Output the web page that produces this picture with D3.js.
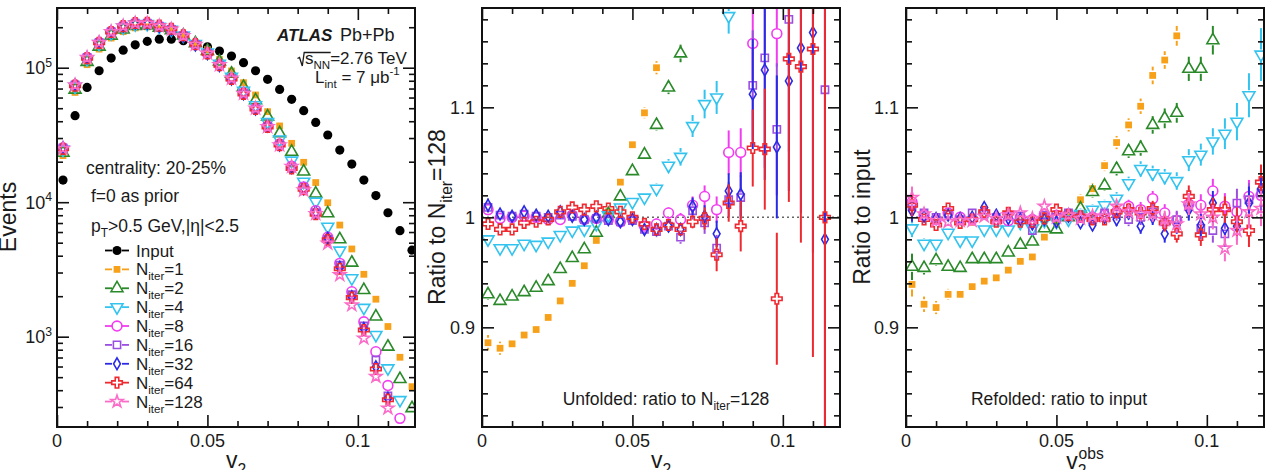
<!DOCTYPE html>
<html><head><meta charset="utf-8">
<script src="https://cdn.jsdelivr.net/npm/d3@7"></script>
<style>
body{margin:0;background:#fff;}
svg{display:block;}
text{font-family:"Liberation Sans",Arial,Helvetica,sans-serif;fill:#1a1a1a;}
</style>
</head><body>
<svg id="c" width="1274" height="470"></svg>
<script>
// ---------------- DATA ----------------
const bins = [0.002,0.006,0.010,0.014,0.018,0.022,0.026,0.030,0.034,0.038,0.042,0.046,0.050,0.054,0.058,
              0.062,0.066,0.070,0.074,0.078,0.082,0.086,0.090,0.094,0.098,0.102,0.106,0.110,0.114,0.118];
const iterLabels = ["1","2","4","8","16","32","64","128"];

// Panel 1: event counts
const inputEvents = [14600,44000,71400,95000,118000,135000,148000,157000,163000,163000,158600,150700,143000,133000,122000,
                     109000,95000,82000,69000,58200,47900,39200,31600,24400,19200,14600,11200,8350,6140,4400];
const unf1   = [22200,65500,105300,137500,166100,185400,197700,201200,195000,189000,173900,153800,136400,115000,94600,
                77400,62700,47100,36900,27400,19800,14000,9900,6760,4490,2910,1900,1190,703,425];
const unf2   = [23300,68700,110400,143500,173200,192200,203900,206100,198100,190300,173500,151800,133400,111000,90300,
                72000,57300,43300,32500,23700,16900,11600,8260,5300,3550,2220,1410,843,484,294];
const unf4   = [24600,72200,115700,150300,180400,199500,210600,211400,201800,191800,173300,150300,129800,106900,85500,
                67400,52600,39400,29300,20400,14200,10100,6580,4370,2720,1640,1030,582,338,null];
const unf8   = [25300,74200,119000,154200,185000,203600,213600,214400,203600,192800,172700,148400,127700,104200,82800,
                64700,49800,36800,27100,18500,13000,8650,5490,3510,2160,1290,773,433,247,null];
const unf16  = [25300,74400,119100,154500,185200,204000,214400,214200,203600,192800,172500,148400,127600,103800,82200,
                63900,49000,36600,26500,17900,12500,8350,5300,3400,2050,1200,671,363,null,null];
const unf32  = [25400,74500,119100,154800,185400,204200,215100,214200,203600,193000,172700,148400,127700,103800,82400,
                63900,49400,36800,26600,18100,12600,8370,5400,3280,1980,1150,598,348,null,null];
const unf64  = [24950,73500,117700,153200,184300,203600,215100,215900,205400,194900,174400,149700,128000,104400,82400,
                63900,49400,36300,26600,17800,12500,8140,5250,3200,1950,1120,575,340,null,null];
const unf128 = [25100,74300,119000,154000,185000,204000,214000,214000,204000,193000,173000,149000,128000,105000,83300,
                64400,49900,36400,26600,18400,12300,8200,4940,2880,1720,973,505,294,null,null];

// Panel 2: unfolded, ratio to N_iter=128
const unfRatio1  = [0.886,0.881,0.885,0.893,0.898,0.909,0.924,0.940,0.956,0.979,1.005,1.032,1.066,1.095,1.136];
const unfErr1    = [0.007,0.006,0.004,0.003,0.003,0.003,0.003,0.003,0.003,0.003,0.003,0.003,0.004,0.005,0.006];
const unfRatio2  = [0.930,0.924,0.928,0.932,0.936,0.942,0.953,0.963,0.971,0.986,1.003,1.019,1.042,1.057,1.084,1.118,1.149];
const unfErr2    = [0.005,0.004,0.003,0.003,0.003,0.003,0.003,0.003,0.003,0.003,0.003,0.003,0.004,0.004,0.005,0.006,0.008];
const unfRatio4  = [0.980,0.972,0.972,0.976,0.975,0.978,0.984,0.988,0.989,0.994,1.002,1.009,1.014,1.018,1.026,1.047,1.055,1.083,1.103,1.109,1.183];
const unfErr4    = [0.004,0.003,0.003,0.003,0.003,0.003,0.003,0.003,0.003,0.003,0.003,0.003,0.004,0.004,0.005,0.006,0.008,0.010,0.013,0.015,0.016];
const unfRatio8  = [1.007,0.999,1.000,1.001,1.000,0.998,0.998,1.002,0.998,0.999,0.998,0.996,0.998,0.992,0.994,
                    1.004,0.998,1.011,1.019,1.007,1.059,1.059,1.158,null,1.167];
const unfErr8    = [0.005,0.003,0.003,0.003,0.003,0.003,0.003,0.003,0.003,0.003,0.003,0.003,0.004,0.004,0.005,
                    0.005,0.006,0.008,0.010,0.012,0.020,0.022,0.040,null,0.030];
const unfRatio16 = [1.009,1.002,1.001,1.003,1.001,1.000,1.002,1.001,0.998,0.999,0.997,0.996,0.997,0.989,0.987,
                    0.992,0.982,1.006,0.995,0.972,1.016,1.018,1.120,1.145,1.080,1.180,null,null,1.116];
const unfErr16   = [0.005,0.003,0.003,0.003,0.003,0.003,0.003,0.003,0.003,0.003,0.003,0.003,0.004,0.004,0.005,
                    0.005,0.006,0.008,0.010,0.012,0.016,0.020,0.050,0.100,0.060,0.120,null,null,0.300];
const unfRatio32 = [1.011,1.003,1.001,1.005,1.002,1.001,1.005,1.001,0.998,1.000,0.998,0.996,0.998,0.989,0.989,
                    0.992,0.989,1.010,1.001,0.985,1.024,1.021,1.112,1.134,1.064,1.124,1.154,1.168,0.980];
const unfErr32   = [0.006,0.003,0.003,0.003,0.003,0.003,0.003,0.003,0.003,0.003,0.003,0.003,0.004,0.004,0.005,
                    0.005,0.006,0.008,0.010,0.012,0.016,0.020,0.050,0.100,0.065,0.100,0.150,0.200,0.300];
const unfRatio64 = [0.994,0.989,0.989,0.995,0.996,0.998,1.005,1.009,1.007,1.010,1.008,1.005,1.000,0.994,0.989,
                    0.993,0.989,0.996,0.999,0.966,1.013,0.992,1.063,1.062,0.926,1.144,1.137,1.153,1.000];
const unfErr64   = [0.005,0.003,0.003,0.003,0.003,0.003,0.003,0.003,0.003,0.003,0.003,0.003,0.004,0.004,0.005,
                    0.005,0.005,0.006,0.010,0.015,0.017,0.023,0.035,0.055,0.060,0.130,0.160,0.280,0.300];

// Panel 3: refolded, ratio to input
const refRatio1  = [0.939,0.921,0.918,0.930,0.930,0.937,0.942,0.945,0.952,0.960,0.964,0.982,0.994,1.004,1.016,
                    1.026,1.047,1.068,1.084,1.101,1.129,1.143,1.165];
const refErr1    = [0.011,0.007,0.006,0.005,0.004,0.004,0.004,0.004,0.004,0.004,0.004,0.004,0.004,0.004,0.005,
                    0.005,0.005,0.006,0.006,0.007,0.008,0.008,0.009];
const refRatio2  = [0.955,0.954,0.961,0.955,0.954,0.962,0.962,0.962,0.968,0.975,0.978,0.990,0.989,1.000,1.008,
                    1.023,1.029,1.044,1.060,1.063,1.084,1.090,1.095,1.135,1.135,1.161];
const refErr2    = [0.012,0.006,0.005,0.004,0.004,0.004,0.004,0.004,0.004,0.004,0.004,0.004,0.004,0.004,0.005,
                    0.005,0.005,0.006,0.006,0.007,0.008,0.009,0.009,0.011,0.011,0.013];
const refRatio4  = [0.990,0.976,0.976,0.986,0.979,0.979,0.989,0.989,0.989,0.995,0.990,0.997,0.996,0.998,1.003,
                    1.007,1.011,1.017,1.031,1.044,1.040,1.037,1.033,1.052,1.057,1.069,1.076,1.087,1.111,1.148];
const refErr4    = [0.008,0.005,0.004,0.004,0.004,0.004,0.004,0.004,0.004,0.004,0.004,0.004,0.004,0.004,0.005,
                    0.005,0.005,0.006,0.006,0.007,0.007,0.007,0.008,0.010,0.010,0.012,0.014,0.017,0.020,0.024];
const refRatio8  = [1.014,1.002,0.998,1.004,1.000,0.998,1.004,0.998,0.997,1.000,0.998,1.003,1.002,1.003,1.000,
                    1.000,1.002,1.005,1.010,1.007,1.017,1.004,0.997,1.012,1.011,1.024,1.010,1.005,1.019,1.020];
const refRatio16 = [1.010,1.004,1.000,1.003,0.998,1.004,1.003,1.000,1.001,1.001,0.988,1.002,1.000,1.004,1.000,
                    0.998,1.004,1.003,0.998,1.000,1.005,0.996,0.998,1.010,0.990,0.988,0.985,1.013,1.016,1.022];
const refRatio32 = [1.006,1.001,0.999,1.002,0.999,1.000,1.009,1.002,0.999,0.998,0.994,0.998,0.996,1.001,0.995,
                    0.993,1.000,0.998,1.004,0.992,1.000,0.985,0.993,1.007,0.993,1.013,0.990,0.992,1.013,1.026];
const refRatio64 = [1.011,0.998,0.993,1.008,0.995,0.998,1.005,0.996,1.004,0.996,0.996,0.999,1.007,1.002,1.001,
                    0.998,0.998,1.005,1.007,1.004,1.008,0.995,0.985,1.019,0.984,1.007,1.007,0.996,0.988,1.032];
const refRatio128= [1.018,1.003,0.997,0.996,0.997,0.997,1.001,0.999,1.002,1.004,0.999,1.010,1.000,1.002,0.999,
                    1.001,1.001,1.010,1.005,1.003,1.003,0.998,0.994,1.012,1.003,1.000,0.972,0.988,1.005,1.008];
const refErrCluster = [0.010,0.005,0.004,0.004,0.004,0.004,0.004,0.004,0.004,0.004,0.004,0.004,0.004,0.004,0.004,
                       0.005,0.005,0.006,0.006,0.007,0.007,0.008,0.008,0.010,0.010,0.011,0.012,0.013,0.015,0.016];

// ---------------- LAYOUT / STYLE ----------------
const svg = d3.select("#c");
const TOP = 8, BOT = 427;
const panels = [{x0:57,x1:415},{x0:482,x1:840},{x0:906,x1:1264}];
const xDomain = [0, 0.119];
const xMajor = [0, 0.05, 0.1], xMajorLabels = ["0","0.05","0.1"];
const xMinor = [0.01,0.02,0.03,0.04,0.06,0.07,0.08,0.09,0.11];
const yLogMajor = [1e3,1e4,1e5], yLogExp = ["3","4","5"];
const yLogMinor = [300,400,500,600,700,800,900,2000,3000,4000,5000,6000,7000,8000,9000,
                   20000,30000,40000,50000,60000,70000,80000,90000,200000];
const yRatMajor = [0.9,1.0,1.1], yRatLabels = ["0.9","1","1.1"];
const yRatMinor = [0.82,0.84,0.86,0.88,0.92,0.94,0.96,0.98,1.02,1.04,1.06,1.08,1.12,1.14,1.16,1.18];

const C = {black:"#000000", orange:"#f7a11a", green:"#2a8a2a", cyan:"#33c3ef", magenta:"#f23cf0",
           purple:"#9a4fe0", blue:"#2a2ae6", red:"#ee2a30", pink:"#fb6cc8"};
const styleInput = {sym:d3.symbolCircle, size:66, fill:C.black, color:C.black};
const iterStyles = [
  {sym:d3.symbolSquare,   size:46, fill:C.orange, color:C.orange},
  {sym:d3.symbolTriangle, size:62, fill:"none",   color:C.green},
  {sym:d3.symbolTriangle, size:62, fill:"none",   color:C.cyan, rot:180},
  {sym:d3.symbolCircle,   size:76, fill:"none",   color:C.magenta},
  {sym:d3.symbolSquare,   size:52, fill:"none",   color:C.purple},
  {sym:d3.symbolDiamond,  size:40, fill:"none",   color:C.blue},
  {sym:d3.symbolCross,    size:62, fill:"none",   color:C.red},
  {sym:d3.symbolStar,     size:46, fill:"none",   color:C.pink}
];

function marker(g, st, cx, cy) {
  g.append("path")
    .attr("d", d3.symbol().type(st.sym).size(st.size)())
    .attr("transform", `translate(${cx},${cy})` + (st.rot ? ` rotate(${st.rot})` : ""))
    .attr("fill", st.fill)
    .attr("stroke", st.fill === "none" ? st.color : "none")
    .attr("stroke-width", 1.6);
}

function series(g, xs, ys, errs, st, xS, yS, domain) {
  const gap = 5;
  ys.forEach((v, i) => {
    if (v == null || v < domain[0] || v > domain[1]) return;
    const cx = xS(xs[i]), cy = yS(v);
    if (errs && errs[i]) {
      const yh = yS(v + errs[i]), yl = yS(v - errs[i]);
      if (yh < cy - gap) g.append("line").attr("x1",cx).attr("x2",cx).attr("y1",yh).attr("y2",cy-gap)
          .attr("stroke",st.color).attr("stroke-width",2);
      if (yl > cy + gap) g.append("line").attr("x1",cx).attr("x2",cx).attr("y1",cy+gap).attr("y2",yl)
          .attr("stroke",st.color).attr("stroke-width",2);
    }
    marker(g, st, cx, cy);
  });
}

function rich(g, x, y, parts, size, anchor) {
  const t = g.append("text").attr("x", x).attr("y", y).attr("font-size", size)
    .attr("text-anchor", anchor || "start");
  let shift = 0;
  parts.forEach(p => {
    const ts = t.append("tspan").text(p.t);
    let target = 0, fs = size;
    if (p.sub) { target = size * 0.3; fs = size * 0.68; }
    if (p.sup) { target = -size * 0.42; fs = size * 0.68; }
    ts.attr("font-size", fs).attr("dy", target - shift);
    if (p.dx) ts.attr("dx", p.dx);
    if (p.italic) ts.attr("font-style", "italic");
    if (p.bold) ts.attr("font-weight", "bold");
    shift = target;
  });
  return t;
}

function frameAndTicks(p, xS, yS, yMajor, yMinor) {
  const g = svg.append("g");
  const axes = [
    [d3.axisBottom(xS), `translate(0,${BOT})`, xMajor, xMinor],
    [d3.axisTop(xS), `translate(0,${TOP})`, xMajor, xMinor],
    [d3.axisLeft(yS), `translate(${p.x0},0)`, yMajor, yMinor],
    [d3.axisRight(yS), `translate(${p.x1},0)`, yMajor, yMinor]
  ];
  axes.forEach(([ax, tr, maj, min]) => {
    g.append("g").attr("transform", tr).call(ax.tickValues(maj).tickSize(-12).tickFormat(""));
    g.append("g").attr("transform", tr).call(ax.tickValues(min).tickSize(-6).tickFormat(""));
  });
  g.selectAll(".domain").remove();
  g.selectAll(".tick line").attr("stroke", "#111").attr("stroke-width", 1.6);
  g.append("rect").attr("x", p.x0).attr("y", TOP).attr("width", p.x1 - p.x0).attr("height", BOT - TOP)
    .attr("fill", "none").attr("stroke", "#111").attr("stroke-width", 2);
  xMajor.forEach((v, i) => {
    g.append("text").attr("x", xS(v)).attr("y", 447).attr("font-size", 18)
      .attr("text-anchor", "middle").text(xMajorLabels[i]);
  });
}

function clipFor(id, p) {
  svg.append("clipPath").attr("id", id).append("rect")
    .attr("x", p.x0).attr("y", TOP).attr("width", p.x1 - p.x0).attr("height", BOT - TOP);
  return svg.append("g").attr("clip-path", `url(#${id})`);
}

// ---------------- PANEL 1 ----------------
{
  const p = panels[0];
  const xS = d3.scaleLinear().domain(xDomain).range([p.x0, p.x1]);
  const yDom = [213, 278000];
  const yS = d3.scaleLog().domain(yDom).range([BOT, TOP]);
  const g = clipFor("cp1", p);
  series(g, bins, inputEvents, null, styleInput, xS, yS, yDom);
  const unf = [unf1, unf2, unf4, unf8, unf16, unf32, unf64, unf128];
  unf.forEach((arr, k) => series(g, bins, arr, null, iterStyles[k], xS, yS, yDom));
  frameAndTicks(p, xS, yS, yLogMajor, yLogMinor);
  yLogMajor.forEach((v, i) => {
    rich(svg, p.x0 - 5, yS(v) + 6.5, [{t:"10"}, {t:yLogExp[i], sup:true}], 18, "end");
  });
  rich(svg.append("g").attr("transform", `translate(16,217) rotate(-90)`), 0, 0, [{t:"Events"}], 23, "middle");
  rich(svg, 236, 468, [{t:"v"}, {t:"2", sub:true}], 23, "middle");

  // ATLAS label block
  rich(svg, 277, 40.5, [{t:"ATLAS", italic:true, bold:true}], 17);
  rich(svg, 340, 40.5, [{t:"Pb+Pb"}], 18);
  const sq = rich(svg, 305, 64, [{t:"s"}, {t:"NN", sub:true}, {t:"=2.76 TeV"}], 17);
  const tsp = sq.selectAll("tspan").nodes();
  let ex = 328;
  try { const bb = tsp[1].getBBox(); ex = bb.x + bb.width + 0.5; } catch(e) {}
  svg.append("path").attr("d", `M297.5,58.5 L299.5,57.5 L302.3,66 L304.2,52.5 L${ex},52.5`)
    .attr("fill", "none").attr("stroke", "#1a1a1a").attr("stroke-width", 1.3);
  rich(svg, 315, 82.5, [{t:"L"}, {t:"int", sub:true}, {t:" = 7 μb"}, {t:"-1", sup:true}], 17);

  // descriptive text
  rich(svg, 86, 174, [{t:"centrality: 20-25%"}], 17.5);
  rich(svg, 91, 202, [{t:"f=0 as prior"}], 17.5);
  rich(svg, 91, 232, [{t:"p"}, {t:"T", sub:true}, {t:">0.5 GeV,|η|<2.5"}], 17.5);

  // legend
  const legStyles = [styleInput].concat(iterStyles);
  const legParts = [[{t:"Input"}]].concat(iterLabels.map(n => [{t:"N"}, {t:"iter", sub:true}, {t:"=" + n}]));
  legStyles.forEach((st, k) => {
    const cy = 250.5 + 18.88 * k;
    svg.append("line").attr("x1", 105).attr("x2", 112).attr("y1", cy).attr("y2", cy)
      .attr("stroke", st.color).attr("stroke-width", 1.8);
    svg.append("line").attr("x1", 122).attr("x2", 129).attr("y1", cy).attr("y2", cy)
      .attr("stroke", st.color).attr("stroke-width", 1.8);
    marker(svg, st, 117, cy);
    rich(svg, 136, cy + 6, legParts[k], 17);
  });
}

// ---------------- PANEL 2 ----------------
{
  const p = panels[1];
  const xS = d3.scaleLinear().domain(xDomain).range([p.x0, p.x1]);
  const yDom = [0.8094, 1.1903];
  const yS = d3.scaleLinear().domain(yDom).range([BOT, TOP]);
  svg.append("line").attr("x1", p.x0).attr("x2", p.x1).attr("y1", yS(1)).attr("y2", yS(1))
    .attr("stroke", "#666").attr("stroke-width", 1.5).attr("stroke-dasharray", "2,3");
  const g = clipFor("cp2", p);
  const rat = [unfRatio1, unfRatio2, unfRatio4, unfRatio8, unfRatio16, unfRatio32, unfRatio64];
  const err = [unfErr1, unfErr2, unfErr4, unfErr8, unfErr16, unfErr32, unfErr64];
  rat.forEach((arr, k) => series(g, bins, arr, err[k], iterStyles[k], xS, yS, yDom));
  frameAndTicks(p, xS, yS, yRatMajor, yRatMinor);
  yRatMajor.forEach((v, i) => {
    svg.append("text").attr("x", p.x0 - 7).attr("y", yS(v) + 6.5).attr("font-size", 18)
      .attr("text-anchor", "end").text(yRatLabels[i]);
  });
  rich(svg.append("g").attr("transform", `translate(445,217) rotate(-90)`), 0, 0,
       [{t:"Ratio to N"}, {t:"iter", sub:true}, {t:"=128"}], 23, "middle");
  rich(svg, 661, 468, [{t:"v"}, {t:"2", sub:true}], 23, "middle");
  rich(svg, 666, 404.5, [{t:"Unfolded: ratio to N"}, {t:"iter", sub:true}, {t:"=128"}], 17.5, "middle");
}

// ---------------- PANEL 3 ----------------
{
  const p = panels[2];
  const xS = d3.scaleLinear().domain(xDomain).range([p.x0, p.x1]);
  const yDom = [0.8094, 1.1903];
  const yS = d3.scaleLinear().domain(yDom).range([BOT, TOP]);
  svg.append("line").attr("x1", p.x0).attr("x2", p.x1).attr("y1", yS(1)).attr("y2", yS(1))
    .attr("stroke", "#666").attr("stroke-width", 1.5).attr("stroke-dasharray", "2,3");
  const g = clipFor("cp3", p);
  const rat = [refRatio1, refRatio2, refRatio4, refRatio8, refRatio16, refRatio32, refRatio64, refRatio128];
  const err = [refErr1, refErr2, refErr4, refErrCluster, refErrCluster, refErrCluster, refErrCluster, refErrCluster];
  rat.forEach((arr, k) => series(g, bins, arr, err[k], iterStyles[k], xS, yS, yDom));
  frameAndTicks(p, xS, yS, yRatMajor, yRatMinor);
  yRatMajor.forEach((v, i) => {
    svg.append("text").attr("x", p.x0 - 7).attr("y", yS(v) + 6.5).attr("font-size", 18)
      .attr("text-anchor", "end").text(yRatLabels[i]);
  });
  rich(svg.append("g").attr("transform", `translate(870,217) rotate(-90)`), 0, 0,
       [{t:"Ratio to input"}], 23, "middle");
  rich(svg, 1085, 469, [{t:"v"}, {t:"2", sub:true}, {t:"obs", sup:true, dx:-8}], 23, "middle");
  rich(svg, 1059, 404.5, [{t:"Refolded: ratio to input"}], 17.5, "middle");
}
</script>
</body></html>
